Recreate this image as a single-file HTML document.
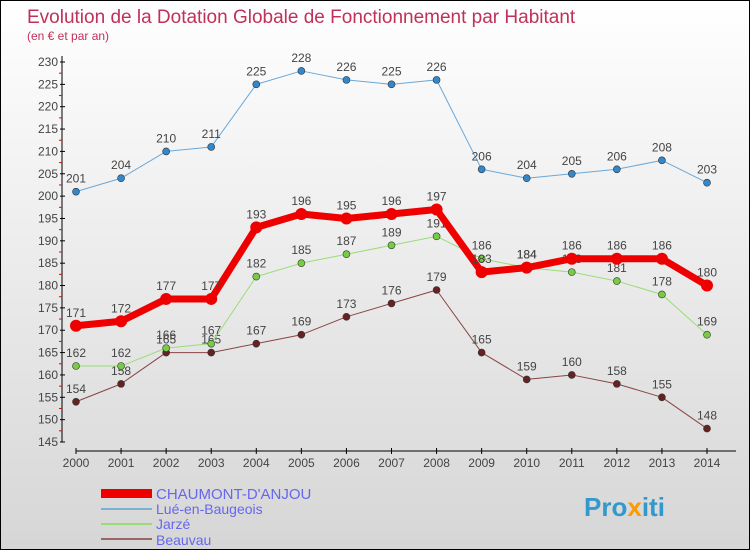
<!DOCTYPE html>
<html><head><meta charset="utf-8"><style>
body{margin:0}
#c{width:750px;height:550px;position:relative;box-sizing:border-box;border:1px solid #000;background:linear-gradient(#ffffff,#d6d6d6);font-family:"Liberation Sans",sans-serif;overflow:hidden}
</style></head><body>
<div id="c">
<svg width="750" height="550" id="s" style="position:absolute;left:0;top:0">
<text x="26" y="22" font-size="19" fill="#c0305a">Evolution de la Dotation Globale de Fonctionnement par Habitant</text>
<text x="26" y="39" font-size="12" fill="#c0305a">(en € et par an)</text>
<g id="ax"></g><g id="pl"></g>
<g>
<rect x="100" y="488" width="51" height="9" fill="#ee0000"/>
<text x="155" y="498" font-size="15" fill="#6666ee">CHAUMONT-D'ANJOU</text>
<rect x="100" y="507" width="51" height="2" fill="#7ab0d0"/>
<text x="155" y="513" font-size="14" fill="#6666ee">Lué-en-Baugeois</text>
<rect x="100" y="522" width="51" height="2" fill="#99dd77"/>
<text x="155" y="528" font-size="14" fill="#6666ee">Jarzé</text>
<rect x="100" y="537" width="51" height="2" fill="#996666"/>
<text x="155" y="544" font-size="14" fill="#6666ee">Beauvau</text>
</g>
<text x="583" y="515" font-size="26" font-weight="bold" fill="#3399cc">Pro<tspan fill="#ff9900">x</tspan>iti</text>
</svg>
</div>
<script>
const years=[2000,2001,2002,2003,2004,2005,2006,2007,2008,2009,2010,2011,2012,2013,2014];
const chaumont=[171,172,177,177,193,196,195,196,197,183,184,186,186,186,180];
const lue=[201,204,210,211,225,228,226,225,226,206,204,205,206,208,203];
const jarze=[162,162,166,167,182,185,187,189,191,186,184,183,181,178,169];
const beauvau=[154,158,165,165,167,169,173,176,179,165,159,160,158,155,148];
const yTicks=[145,150,155,160,165,170,175,180,185,190,195,200,205,210,215,220,225,230];
const NS="http://www.w3.org/2000/svg";
const X=i=>75+i*(706-75)/14;
const Y=v=>441-(v-145)*(380/85);
function mk(t,a,p){const e=document.createElementNS(NS,t);for(const k in a)e.setAttribute(k,a[k]);p.appendChild(e);return e;}
const ax=document.getElementById('ax'),pl=document.getElementById('pl');
let l=mk('line',{x1:61,y1:55,x2:61,y2:441,stroke:'#000','stroke-width':1},ax);


l=mk('line',{x1:75,y1:450,x2:735,y2:450,stroke:'#000','stroke-width':1},ax);


yTicks.forEach((v,i)=>{
 mk('line',{x1:59,y1:Y(v),x2:64,y2:Y(v),stroke:'#000'},ax);
 if(i<yTicks.length-1)mk('line',{x1:58,y1:Y(v+2.5),x2:61,y2:Y(v+2.5),stroke:'#e00'},ax);
 const t=mk('text',{x:57,y:Y(v)+4,'font-size':12,fill:'#444','text-anchor':'end'},ax);
 t.textContent=v;
 
 
});
years.forEach((y,i)=>{
 mk('line',{x1:X(i),y1:447,x2:X(i),y2:453,stroke:'#000'},ax);
 const t=mk('text',{x:X(i),y:466,'font-size':12,fill:'#444','text-anchor':'middle'},ax);
 t.textContent=y;
 
 
});
function series(d,col,dot,w,r,name){
 const g=mk('g',{},pl);
 
 
 const p=mk('polyline',{points:d.map((v,i)=>X(i)+','+Y(v)).join(' '),fill:'none',stroke:col,'stroke-width':w,'stroke-linejoin':'round'},g);
 
 
 d.forEach((v,i)=>{
  const c=mk('circle',{cx:X(i),cy:Y(v),r:r,fill:dot,stroke:'#333','stroke-width':r>4?0:0.6},g);
  
  
  const t=mk('text',{x:X(i),y:Y(v)-9,'font-size':12,fill:'#444','text-anchor':'middle'},g);
  t.textContent=v;
  
  
 });
}
series(beauvau,'#884444','#662222',1,3.5,'beauvau');
series(jarze,'#99dd77','#77cc44',1,3.5,'jarze');
series(lue,'#6aa8d8','#3388cc',1,3.5,'lue');
series(chaumont,'#ee0000','#ee0000',7,6,'chaumont');
</script>
</body></html>
